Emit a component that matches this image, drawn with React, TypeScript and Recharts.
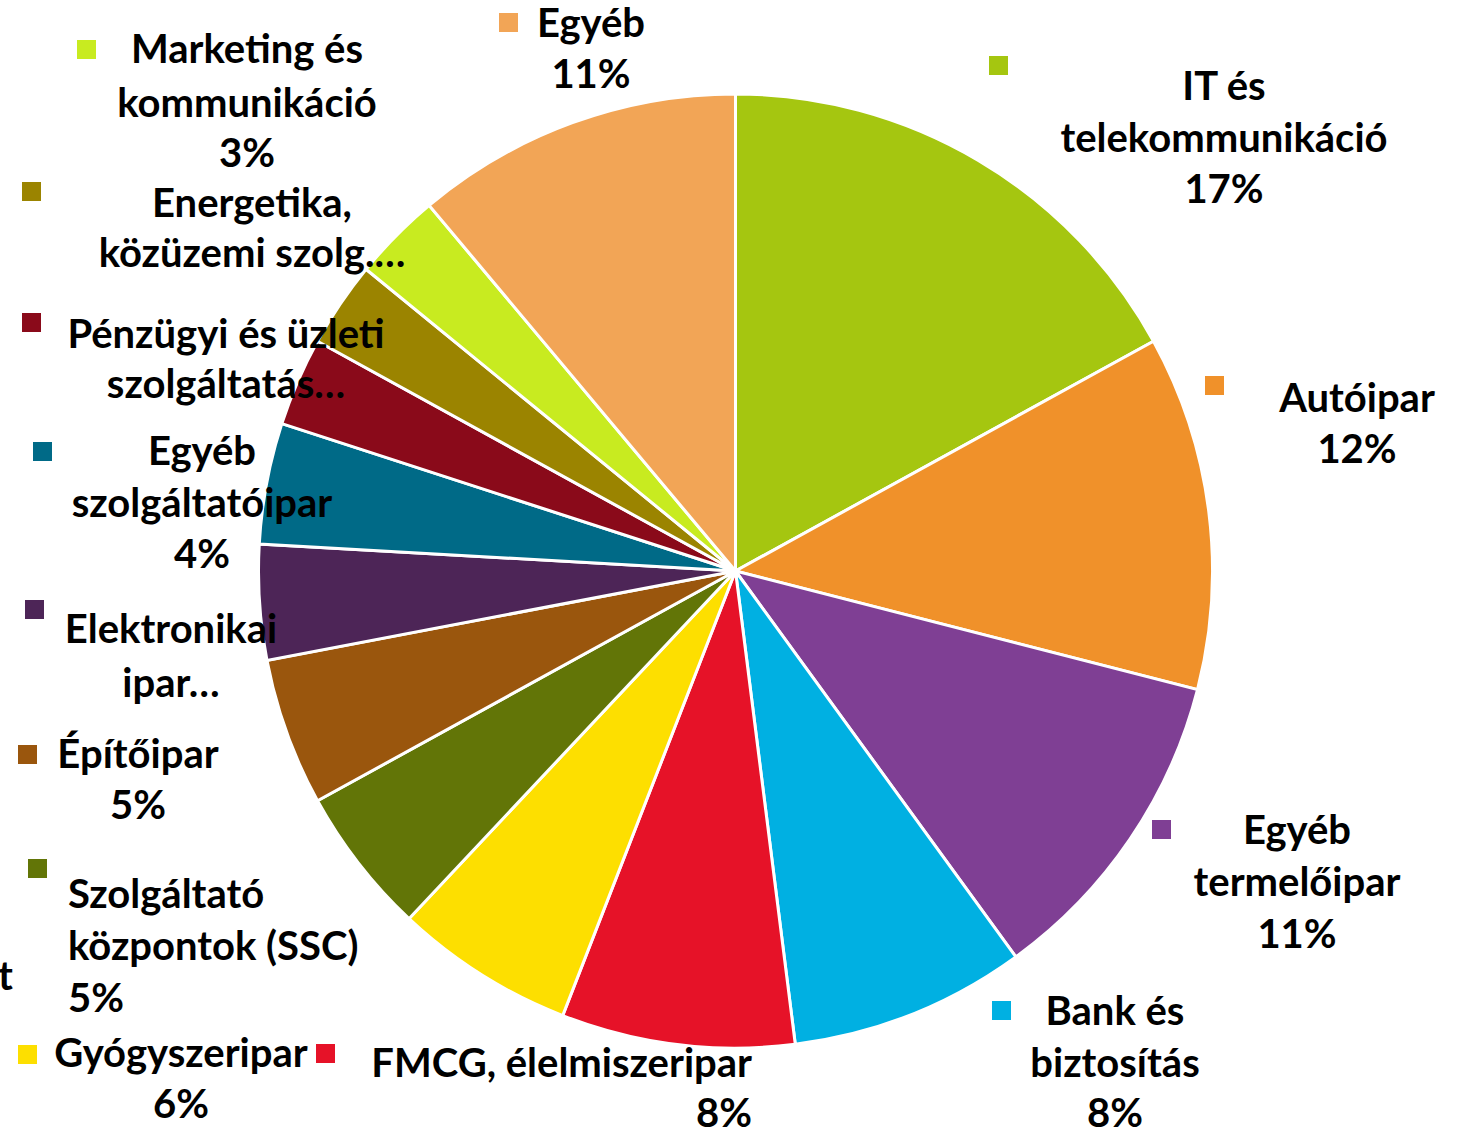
import React from "react";
import { PieChart, Pie, Cell } from "recharts";

// ---- data ----
const categories = [
  "IT és telekommunikáció",
  "Autóipar",
  "Egyéb termelőipar",
  "Bank és biztosítás",
  "FMCG, élelmiszeripar",
  "Gyógyszeripar",
  "Szolgáltató központok (SSC)",
  "Építőipar",
  "Elektronikai ipar…",
  "Egyéb szolgáltatóipar",
  "Pénzügyi és üzleti szolgáltatás…",
  "Energetika, közüzemi szolg.…",
  "Marketing és kommunikáció",
  "Egyéb",
];

const shares = [17, 12, 11, 8, 7.9, 6.1, 5, 5, 3.9, 4.1, 3, 2.9, 3, 11.1];

// label text as it is wrapped in the picture (percent appended when shown)
const labelLines = [
  ["IT és", "telekommunikáció"],
  ["Autóipar"],
  ["Egyéb", "termelőipar"],
  ["Bank és", "biztosítás"],
  ["FMCG, élelmiszeripar"],
  ["Gyógyszeripar"],
  ["Szolgáltató", "központok (SSC)"],
  ["Építőipar"],
  ["Elektronikai", "ipar…"],
  ["Egyéb", "szolgáltatóipar"],
  ["Pénzügyi és üzleti", "szolgáltatás…"],
  ["Energetika,", "közüzemi szolg.…"],
  ["Marketing és", "kommunikáció"],
  ["Egyéb"],
];
const showPercent = [true, true, true, true, true, true, true, true, false, true, false, false, true, true];

// ---- styles / layout ----
const colors = [
  "#A5C610",
  "#F0912A",
  "#7F3F94",
  "#00B0E2",
  "#E61228",
  "#FDDF00",
  "#627507",
  "#9A560D",
  "#4D2557",
  "#006A87",
  "#8A0A1A",
  "#9B8400",
  "#C8EB20",
  "#F2A556",
];

type LabelLayout = {
  mx: number;
  my: number;
  x: number;
  anchor: "start" | "middle" | "end";
  ys: number[];
};

const labelLayout: LabelLayout[] = [
  { mx: 989, my: 56, x: 1224, anchor: "middle", ys: [100, 152, 203] },
  { mx: 1205, my: 376, x: 1357, anchor: "middle", ys: [412, 463] },
  { mx: 1152, my: 820, x: 1297, anchor: "middle", ys: [844, 896, 948] },
  { mx: 992, my: 1001, x: 1115, anchor: "middle", ys: [1025, 1077, 1127] },
  { mx: 316, my: 1044, x: 752, anchor: "end", ys: [1077, 1127] },
  { mx: 18, my: 1045, x: 181, anchor: "middle", ys: [1067, 1118] },
  { mx: 28, my: 859, x: 68, anchor: "start", ys: [908, 960, 1012] },
  { mx: 18, my: 745, x: 138, anchor: "middle", ys: [768, 819] },
  { mx: 25, my: 600, x: 171, anchor: "middle", ys: [643, 697] },
  { mx: 33, my: 442, x: 202, anchor: "middle", ys: [465, 517, 568] },
  { mx: 22, my: 313, x: 226, anchor: "middle", ys: [348, 398] },
  { mx: 22, my: 182, x: 252, anchor: "middle", ys: [217, 267] },
  { mx: 77, my: 40, x: 247, anchor: "middle", ys: [63, 117, 167] },
  { mx: 499, my: 13, x: 591, anchor: "middle", ys: [37, 88] },
];

const FONT = "Lato, 'Open Sans', sans-serif";
const FONT_SIZE = 40;
const MARKER = 19;

const data = categories.map((name, i) => ({ name, value: shares[i] }));

const renderLabel = (props: any) => {
  let i = typeof props.index === "number" ? props.index : categories.indexOf(props.name);
  if (i < 0) i = categories.indexOf(props.payload?.name);
  const lay = labelLayout[i];
  if (!lay) return null;
  const lines = [...labelLines[i]];
  if (showPercent[i]) lines.push(`${Math.round((props.percent ?? 0) * 100)}%`);
  return (
    <g key={`lbl-${i}`}>
      <rect x={lay.mx} y={lay.my} width={MARKER} height={MARKER} fill={colors[i]} />
      {lines.map((t, k) => (
        <text
          key={k}
          x={lay.x}
          y={lay.ys[k]}
          textAnchor={lay.anchor}
          fontFamily={FONT}
          fontWeight={700}
          fontSize={FONT_SIZE}
          fill="#000"
        >
          {t}
        </text>
      ))}
      {i === 6 ? (
        <text x={-2} y={990} fontFamily={FONT} fontWeight={700} fontSize={FONT_SIZE} fill="#000">
          t
        </text>
      ) : null}
    </g>
  );
};

export default function App() {
  return (
    <div style={{ position: "absolute", left: 0, top: 0, background: "#fff" }}>
      <PieChart width={1463} height={1132} margin={{ top: 0, right: 0, bottom: 0, left: 0 }}>
        <Pie
          data={data}
          dataKey="value"
          nameKey="name"
          cx={735.5}
          cy={571}
          outerRadius={477}
          startAngle={90}
          endAngle={-270}
          stroke="#ffffff"
          strokeWidth={3}
          label={renderLabel}
          labelLine={false}
          isAnimationActive={false}
        >
          {data.map((d, i) => (
            <Cell key={d.name} fill={colors[i]} />
          ))}
        </Pie>
      </PieChart>
    </div>
  );
}
